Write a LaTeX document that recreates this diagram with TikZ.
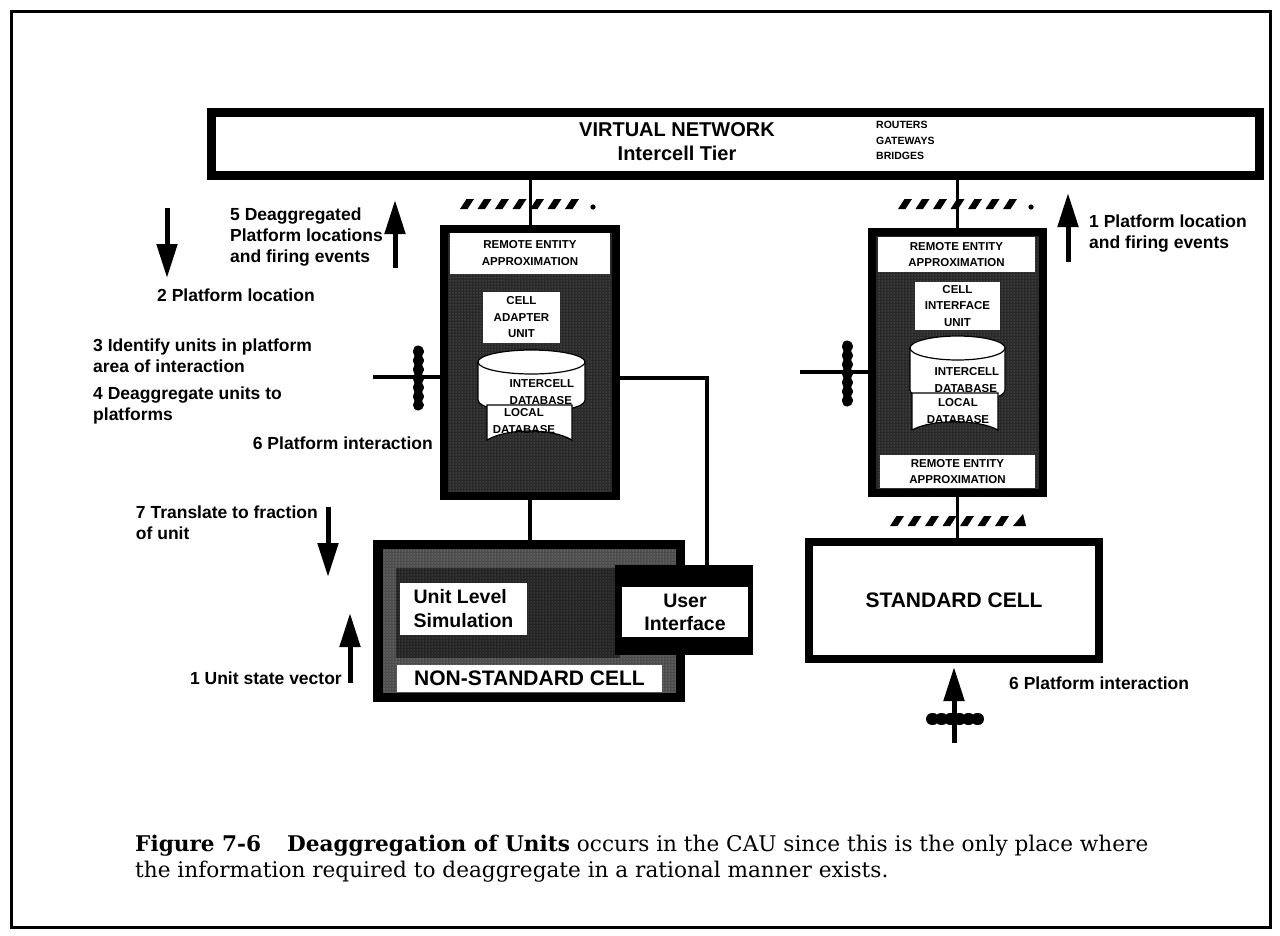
\documentclass[tikz,border=0pt]{standalone}
\usepackage{fontspec}
\setmainfont{Liberation Sans}
\newfontfamily\capfont{DejaVu Serif}
\usetikzlibrary{arrows.meta,patterns}
\tikzset{
  lbl/.style={font=\bfseries\fontsize{17.5}{21}\selectfont, inner sep=0pt, align=left},
  tcap/.style={font=\bfseries\fontsize{11.5}{16.5}\selectfont, inner sep=0pt, align=center},
  tiny/.style={font=\bfseries\fontsize{10.5}{15.5}\selectfont, inner sep=0pt, align=left},
  hvbox/.style={draw=black, fill=white, inner sep=0pt},
  darkbox/.style={draw=black, line width=8pt, fill=black!84, inner sep=0pt},
  wbox/.style={fill=white, draw=none, inner sep=0pt},
  wire/.style={line width=4.5pt},
  netline/.style={line width=3pt},
  bigarrow/.style={line width=5pt, -{Triangle[width=20pt,length=34pt]}},
  beads/.style={line width=11pt, dash pattern=on 1pt off 8pt, line cap=round},
  dbline/.style={draw=black, line width=1.2pt, fill=white},
}
\newcommand{\hashmk}[2]{\fill (#1,#2+5) -- ++(7.5,0) -- ++(6.5,-10) -- ++(-7.5,0) -- cycle;}
\begin{document}
\begin{tikzpicture}[x=1pt,y=-1pt]
\useasboundingbox (0,0) rectangle (1280,935);
% outer frame
\draw[line width=3pt] (11,11) rectangle (1270,927);

% virtual network
\node[hvbox, line width=9pt, minimum width=1048pt, minimum height=63pt] (net) at (735.5,144) {};
\node[font=\bfseries\fontsize{20}{24}\selectfont, inner sep=0pt] (vn) at (677,130) {VIRTUAL NETWORK};
\node[font=\bfseries\fontsize{20}{24}\selectfont, inner sep=0pt] (tier) at (677,153) {Intercell Tier};
\node[tiny, anchor=north west] (rgb) at (876,121) {ROUTERS\\GATEWAYS\\BRIDGES};

% boxes
\node[darkbox, minimum width=172pt, minimum height=267pt] (cau) at (530,362.5) {};
\node[darkbox, minimum width=171pt, minimum height=261pt] (ciu) at (957.5,362.5) {};
\node[hvbox, line width=8pt, minimum width=290pt, minimum height=117pt,
      font=\bfseries\fontsize{21}{24}\selectfont] (std) at (954,600.5) {STANDARD CELL};
\node[fill=black, minimum width=312pt, minimum height=162pt, inner sep=0pt] (ns) at (529,621) {};

% connectors
\draw[netline] (net.south -| cau.north) -- (cau.north);
\draw[netline] (net.south -| ciu.north) -- (ciu.north);
\draw[netline] (ciu.south) -- (ciu.south |- std.north);
\draw[wire] (cau.south) -- (cau.south |- ns.north);
\coordinate (cr) at (707,378);
\coordinate (lfree) at (373,377);
\coordinate (rfree) at (800,372);
\draw[wire] (lfree) -- (lfree -| cau.west);
\draw[wire] (rfree) -- (rfree -| ciu.west);

% stipple in CAU / CIU
\fill[pattern=dots, pattern color=black!45] (449,234) rectangle (611,491);
\fill[pattern=dots, pattern color=black!45] (877,237) rectangle (1038,488);

% CAU contents
\node[wbox, minimum width=160pt, minimum height=41pt, tcap] (reaL) at (530,253) {REMOTE ENTITY\\APPROXIMATION};
\node[wbox, minimum width=77pt, minimum height=51pt, tcap] (cauunit) at (521.5,317.5) {CELL\\ADAPTER\\UNIT};
\draw[dbline] (478,362) -- (478,400) .. controls (478,416) and (585,416) .. (585,400) -- (585,362) -- cycle;
\draw[dbline] (531.5,362) ellipse [x radius=53.5, y radius=12];
\draw[dbline] (487,405) -- (572,405) -- (572,440) .. controls (552,428) and (507,428) .. (487,440) -- cycle;
\node[tcap, align=left] (icdbL) at (542,392) {INTERCELL\\DATABASE};
\node[tcap] (ldbL) at (524,421) {LOCAL\\DATABASE};

% CIU contents
\node[wbox, minimum width=157pt, minimum height=35pt, tcap] (reaR) at (956.5,254.5) {REMOTE ENTITY\\APPROXIMATION};
\node[wbox, minimum width=85pt, minimum height=48pt, tcap] (ciuunit) at (957.5,306) {CELL\\INTERFACE\\UNIT};
\draw[dbline] (910,348) -- (910,390) .. controls (910,406) and (1005,406) .. (1005,390) -- (1005,348) -- cycle;
\draw[dbline] (957.5,348) ellipse [x radius=47.5, y radius=12];
\draw[dbline] (912,393) -- (998,393) -- (998,430) .. controls (978,419) and (932,419) .. (912,430) -- cycle;
\node[tcap, align=left] (icdbR) at (967,380) {INTERCELL\\DATABASE};
\node[tcap] (ldbR) at (958,411) {LOCAL\\DATABASE};
\node[wbox, minimum width=155pt, minimum height=33pt, tcap] (reaR2) at (957.5,471.5) {REMOTE ENTITY\\APPROXIMATION};

% non-standard cell
\fill[black!70] (383,549) rectangle (676,693);
\fill[pattern=dots, pattern color=black!30] (383,549) rectangle (676,693);
\fill[black!86] (396,568) rectangle (620,658);
\fill[pattern=dots, pattern color=black!50] (396,568) rectangle (620,658);
\node[fill=black, minimum width=138pt, minimum height=90pt, inner sep=0pt] (uiblk) at (684,610) {};
\draw[wire] (cau.east |- cr) -- (cr) -- (cr |- uiblk.north);
\node[wbox, minimum width=126pt, minimum height=50pt, font=\bfseries\fontsize{19.5}{23}\selectfont, align=center] (ui) at (685,612) {User\\Interface};
\node[wbox, minimum width=127pt, minimum height=52pt, font=\bfseries\fontsize{19.5}{24}\selectfont, align=left] (uls) at (463.5,609) {Unit Level\\Simulation};
\node[wbox, minimum width=265pt, minimum height=27pt, font=\bfseries\fontsize{21}{24}\selectfont] (nslbl) at (529.5,678.5) {NON-STANDARD CELL};

% gateway beads
\draw[beads] (418,351) -- (418,405);
\draw[beads] (847,346) -- (847,401);

% hash marks (network taps)
\foreach \i in {0,...,6} {
  \hashmk{{460+\i*17.5}}{204}
  \hashmk{{898+\i*17.5}}{204}
  \hashmk{{890+\i*17.5}}{521}
}
\fill (593,207) circle (2.6pt);
\fill (1031,207) circle (2.6pt);
\fill (1013,526) -- (1026,526) -- (1023,514) -- cycle;

% arrows
\coordinate (a2s) at (167,208); \coordinate (a2e) at (167,278);
\coordinate (a5s) at (395,268); \coordinate (a5e) at (395,200);
\coordinate (a1s) at (1068,262); \coordinate (a1e) at (1068,193);
\coordinate (a7s) at (328,507); \coordinate (a7e) at (328,577);
\coordinate (a8s) at (350,683); \coordinate (a8e) at (350,613);
\coordinate (a6s) at (954,743);
\draw[bigarrow] (a2s) -- (a2e);
\draw[bigarrow] (a5s) -- (a5e);
\draw[bigarrow] (a1s) -- (a1e);
\draw[bigarrow] (a7s) -- (a7e);
\draw[bigarrow] (a8s) -- (a8e);
\draw[bigarrow] (a6s) -- ([yshift=-4pt]std.south);
\draw[line width=12pt, dash pattern=on 1pt off 8pt, line cap=round] (932,719) -- (978,719);

% labels
\node[lbl, anchor=west] (t5) at (230,237) {5 Deaggregated\\Platform locations\\and firing events};
\node[lbl, anchor=west] (t2) at (157,295) {2 Platform location};
\node[lbl, anchor=west] (t3) at (93,356) {3 Identify units in platform\\area of interaction};
\node[lbl, anchor=west] (t4) at (93,405) {4 Deaggregate units to\\platforms};
\node[lbl, anchor=east] (t6) at (433,443) {6 Platform interaction};
\node[lbl, anchor=east] (t7) at (318,523) {7 Translate to fraction\\of unit};
\node[lbl, anchor=east] (t1u) at (342,678) {1 Unit state vector};
\node[lbl, anchor=west] (t1r) at (1089,234) {1 Platform location\\and firing events};
\node[lbl, anchor=west] (t6r) at (1009,683) {6 Platform interaction};

% caption
\node[anchor=north west, inner sep=0pt] (cap) at (135,833) {\resizebox{1013pt}{!}{\capfont\begin{tabular}{@{}l@{}}%
{\bfseries Figure 7-6\hspace{1.2em}Deaggregation of Units} occurs in the CAU since this is the only place where\\
the information required to deaggregate in a rational manner exists.\end{tabular}}};
\end{tikzpicture}
\end{document}
